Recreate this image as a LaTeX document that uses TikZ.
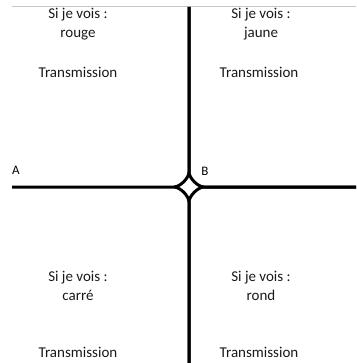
\documentclass[tikz,border=0pt]{standalone}
\usepackage{fontspec}
\setmainfont{Carlito}
\usetikzlibrary{positioning}

\begin{document}
\begin{tikzpicture}[
    x=1pt, y=-1pt,
    cond/.style={
        align=center, inner sep=0pt, text=black!90,
        font=\fontsize{15}{19}\selectfont
    },
    trans/.style={
        inner sep=0pt, text=black!90,
        font=\fontsize{15}{19}\selectfont
    },
    pointlabel/.style={
        inner sep=0pt, font=\fontsize{13}{15}\selectfont
    },
    road/.style={line width=3pt},
    topline/.style={gray!45, line width=1pt}
]
\useasboundingbox (0,0) rectangle (356,363);

% --- Crossing points ---
\coordinate (west) at (12,187);
\coordinate (east) at (356,187);
\coordinate (north) at (189,7);
\coordinate (south) at (189,363);
\coordinate (cW) at (174,187);
\coordinate (cE) at (204,187);
\coordinate (cN) at (189,172);
\coordinate (cS) at (189,202);
\coordinate (northwest) at (12,7);
\coordinate (northeast) at (356,7);

% --- Top border ---
\draw[topline] (northwest) -- (northeast);

% --- Roads (one curved corner per quadrant) ---
\draw[road] (west) -- (cW) .. controls +(6,0) and +(0,6) .. (cN) -- (north);
\draw[road] (north) -- (cN) .. controls +(0,6) and +(-6,0) .. (cE) -- (east);
\draw[road] (east) -- (cE) .. controls +(-6,0) and +(0,-6) .. (cS) -- (south);
\draw[road] (south) -- (cS) .. controls +(0,-6) and +(6,0) .. (cW);

% --- Point labels ---
\node[pointlabel] (labA) at (16,170) {A};
\node[pointlabel] (labB) at (205,171) {B};

% --- Top quadrants ---
\node[cond] (rouge) at (78,24) {Si je vois :\\rouge};
\node[trans] (transTL) at (78,72) {Transmission};
\node[cond] (jaune) at (261,24) {Si je vois :\\jaune};
\node[trans] (transTR) at (259,72) {Transmission};

% --- Bottom quadrants ---
\node[cond] (carre) at (78,286) {Si je vois :\\carré};
\node[trans] (transBL) at (78,352) {Transmission};
\node[cond] (rond) at (261,286) {Si je vois :\\rond};
\node[trans] (transBR) at (259,352) {Transmission};

\end{tikzpicture}
\end{document}
